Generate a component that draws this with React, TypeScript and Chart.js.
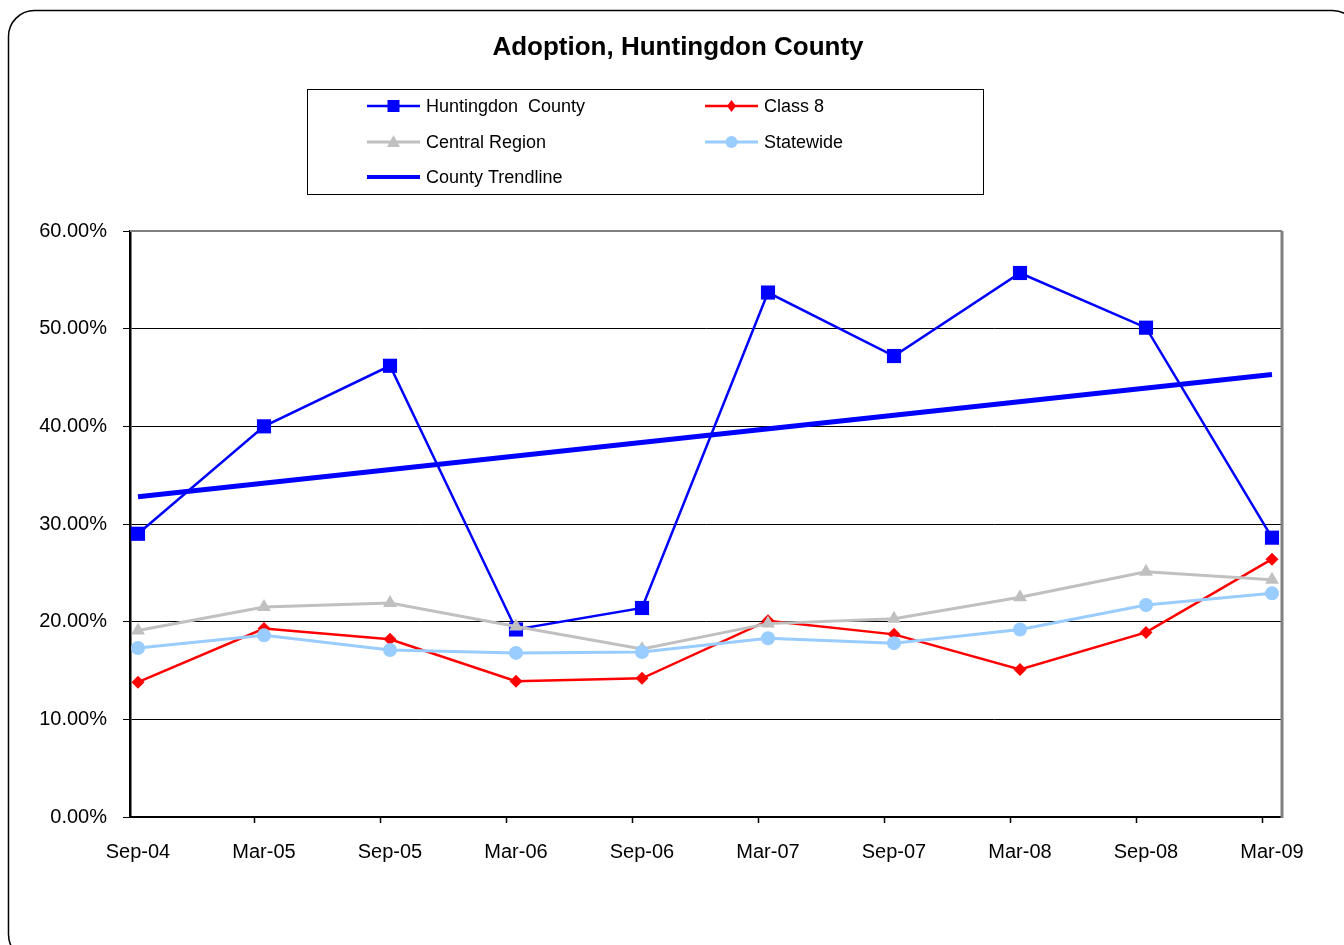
import React, { useEffect, useRef } from "react";
import { Chart, registerables } from "chart.js";

Chart.register(...registerables);

const categories = ["Sep-04", "Mar-05", "Sep-05", "Mar-06", "Sep-06", "Mar-07", "Sep-07", "Mar-08", "Sep-08", "Mar-09"];
const huntingdon = [29.0, 40.0, 46.2, 19.2, 21.4, 53.7, 47.2, 55.7, 50.1, 28.6];
const class8 = [13.8, 19.3, 18.2, 13.9, 14.2, 20.1, 18.7, 15.1, 18.9, 26.4];
const central = [19.1, 21.5, 21.9, 19.5, 17.2, 19.8, 20.3, 22.5, 25.1, 24.3];
const statewide = [17.3, 18.6, 17.1, 16.8, 16.9, 18.3, 17.8, 19.2, 21.7, 22.9];
const trendStart = 32.8;
const trendEnd = 45.3;
const yTicks = [0, 10, 20, 30, 40, 50, 60];

const FONT = "'Liberation Sans', Arial, sans-serif";

const toPoints = (arr: number[]) => arr.map((v, i) => ({ x: i, y: v }));

type LegendItem = { label: string; color: string; style: string; lw: number; col: number; row: number };
const legendItems: LegendItem[] = [
  { label: "Huntingdon  County", color: "#0000FF", style: "rect", lw: 2.5, col: 0, row: 0 },
  { label: "Class 8", color: "#FF0000", style: "diamond", lw: 2.5, col: 1, row: 0 },
  { label: "Central Region", color: "#C0C0C0", style: "triangle", lw: 3, col: 0, row: 1 },
  { label: "Statewide", color: "#99CCFF", style: "circle", lw: 3, col: 1, row: 1 },
  { label: "County Trendline", color: "#0000FF", style: "none", lw: 4, col: 0, row: 2 },
];

const framePlugin = {
  id: "frame",
  beforeDraw(chart: any) {
    const ctx = chart.ctx;
    ctx.save();
    ctx.fillStyle = "#FFFFFF";
    ctx.fillRect(0, 0, chart.width, chart.height);
    ctx.beginPath();
    ctx.lineWidth = 1.5;
    ctx.strokeStyle = "#000000";
    if (ctx.roundRect) ctx.roundRect(8.5, 10.5, 1350, 950, 26);
    else ctx.rect(8.5, 10.5, 1350, 950);
    ctx.stroke();
    ctx.restore();
  },
  beforeDatasetsDraw(chart: any) {
    const ctx = chart.ctx;
    const a = chart.chartArea;
    ctx.save();
    ctx.strokeStyle = "#808080";
    ctx.lineWidth = 2;
    ctx.beginPath();
    ctx.moveTo(a.left, a.top);
    ctx.lineTo(a.right, a.top);
    ctx.stroke();
    ctx.lineWidth = 3;
    ctx.beginPath();
    ctx.moveTo(a.right, a.top);
    ctx.lineTo(a.right, a.bottom + 1);
    ctx.stroke();
    const xs = chart.scales.x;
    ctx.strokeStyle = "#000000";
    ctx.lineWidth = 1.5;
    for (let i = 1; i < categories.length; i++) {
      const px = Math.round(xs.getPixelForValue(i) - 10) + 0.5;
      ctx.beginPath();
      ctx.moveTo(px, a.bottom);
      ctx.lineTo(px, a.bottom + 6);
      ctx.stroke();
    }
    ctx.restore();
  },
  afterDraw(chart: any) {
    const ctx = chart.ctx;
    ctx.save();
    ctx.strokeStyle = "#000000";
    ctx.lineWidth = 1;
    ctx.strokeRect(307.5, 89.5, 676, 105);
    const rowsY = [106, 142, 177];
    const colX = [367, 705];
    ctx.font = `18px ${FONT}`;
    ctx.textBaseline = "middle";
    ctx.textAlign = "left";
    for (const it of legendItems) {
      const y = rowsY[it.row];
      const x0 = colX[it.col];
      const x1 = x0 + 53;
      ctx.strokeStyle = it.color;
      ctx.lineWidth = it.lw;
      ctx.beginPath();
      ctx.moveTo(x0, y);
      ctx.lineTo(x1, y);
      ctx.stroke();
      const cx = (x0 + x1) / 2;
      ctx.fillStyle = it.color;
      ctx.beginPath();
      if (it.style === "rect") {
        ctx.rect(cx - 6, y - 6, 12, 12);
      } else if (it.style === "diamond") {
        ctx.moveTo(cx, y - 6);
        ctx.lineTo(cx + 4.5, y);
        ctx.lineTo(cx, y + 6);
        ctx.lineTo(cx - 4.5, y);
        ctx.closePath();
      } else if (it.style === "triangle") {
        ctx.moveTo(cx, y - 7);
        ctx.lineTo(cx + 6.5, y + 5);
        ctx.lineTo(cx - 6.5, y + 5);
        ctx.closePath();
      } else if (it.style === "circle") {
        ctx.arc(cx, y, 6, 0, Math.PI * 2);
      }
      if (it.style !== "none") ctx.fill();
      ctx.fillStyle = "#000000";
      ctx.fillText(it.label, x1 + 6, y + 1);
    }
    ctx.restore();
  },
};

export default function App() {
  const ref = useRef<HTMLCanvasElement | null>(null);
  useEffect(() => {
    if (!ref.current) return;
    Chart.defaults.font.family = FONT;
    Chart.defaults.color = "#000000";
    const chart = new Chart(ref.current, {
      type: "line",
      data: {
        datasets: [
          {
            label: "Huntingdon  County",
            data: toPoints(huntingdon),
            borderColor: "#0000FF",
            backgroundColor: "#0000FF",
            borderWidth: 2.5,
            pointStyle: "rect",
            pointRadius: 10,
            pointBorderWidth: 0,
            order: 5,
          },
          {
            label: "Class 8",
            data: toPoints(class8),
            borderColor: "#FF0000",
            backgroundColor: "#FF0000",
            borderWidth: 2.5,
            pointStyle: "rectRot",
            pointRadius: 6.5,
            pointBorderWidth: 0,
            order: 4,
          },
          {
            label: "Central Region",
            data: toPoints(central),
            borderColor: "#C0C0C0",
            backgroundColor: "#C0C0C0",
            borderWidth: 3,
            pointStyle: "triangle",
            pointRadius: 8,
            pointBorderWidth: 0,
            order: 3,
          },
          {
            label: "Statewide",
            data: toPoints(statewide),
            borderColor: "#99CCFF",
            backgroundColor: "#99CCFF",
            borderWidth: 3,
            pointStyle: "circle",
            pointRadius: 7,
            pointBorderWidth: 0,
            order: 2,
          },
          {
            label: "County Trendline",
            data: [
              { x: 0, y: trendStart },
              { x: categories.length - 1, y: trendEnd },
            ],
            borderColor: "#0000FF",
            backgroundColor: "#0000FF",
            borderWidth: 5,
            pointRadius: 0,
            order: 1,
          },
        ],
      },
      options: {
        responsive: false,
        animation: false,
        devicePixelRatio: 1,
        layout: { padding: { top: 231, right: 62, left: 0, bottom: 0 } },
        plugins: {
          legend: { display: false },
          tooltip: { enabled: false },
          title: { display: false },
        },
        elements: { line: { tension: 0 } },
        scales: {
          x: {
            type: "linear",
            min: -8 / 126,
            max: 9 + 10 / 126,
            afterBuildTicks: (scale: any) => {
              scale.ticks = categories.map((_, i) => ({ value: i }));
            },
            afterFit: (scale: any) => {
              scale.height = 128;
            },
            grid: { display: false, drawTicks: false },
            border: { display: true, color: "#000000", width: 2 },
            ticks: {
              autoSkip: false,
              maxRotation: 0,
              padding: 23,
              font: { size: 20 },
              color: "#000000",
              callback: (v: any) => categories[v as number] ?? "",
            },
          },
          y: {
            min: 0,
            max: 60,
            afterBuildTicks: (scale: any) => {
              scale.ticks = yTicks.map((v) => ({ value: v }));
            },
            afterFit: (scale: any) => {
              scale.width = 130;
            },
            grid: {
              color: (c: any) => (c.tick && c.tick.value === 60 ? "rgba(0,0,0,0)" : "#000000"),
              tickColor: "#000000",
              lineWidth: 1,
              drawTicks: true,
              tickLength: 7,
            },
            border: { display: true, color: "#000000", width: 2.5 },
            ticks: {
              padding: 16,
              font: { size: 20 },
              color: "#000000",
              callback: (v: any) => `${Number(v).toFixed(2)}%`,
            },
          },
        },
      },
      plugins: [framePlugin],
    } as any);
    return () => chart.destroy();
  }, []);

  return (
    <div style={{ position: "absolute", left: 0, top: 0, width: 1344, height: 945, background: "#fff" }}>
      <div
        style={{
          position: "absolute",
          left: 0,
          top: 28,
          width: 1356,
          textAlign: "center",
          fontFamily: FONT,
          fontWeight: "bold",
          fontSize: 26,
          lineHeight: "36px",
          zIndex: 2,
          pointerEvents: "none",
        }}
      >
        Adoption, Huntingdon County
      </div>
      <canvas ref={ref} width={1344} height={945} style={{ display: "block" }} />
    </div>
  );
}
